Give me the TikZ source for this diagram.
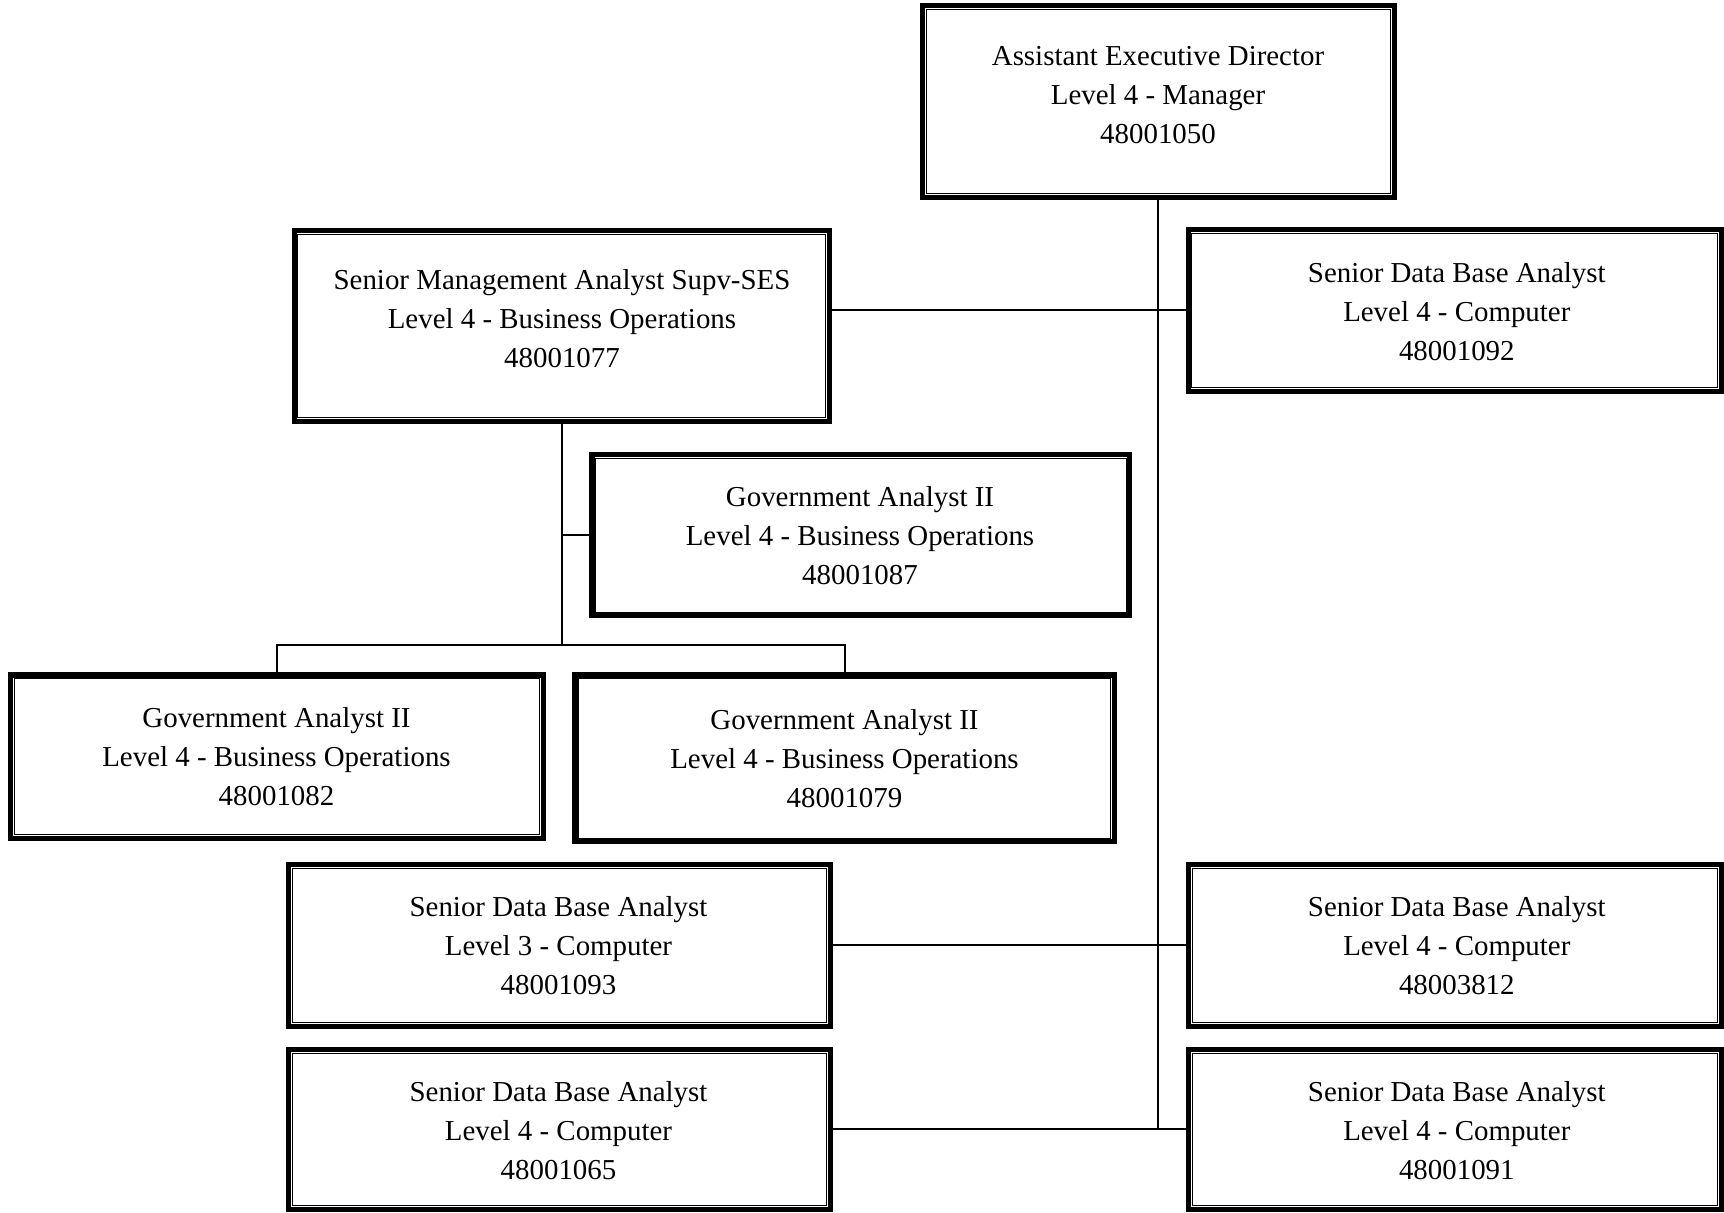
\documentclass[tikz,border=0pt]{standalone}
\usepackage{fontspec}
\setmainfont{Liberation Serif}
\begin{document}
\begin{tikzpicture}[x=0.5pt,y=-0.5pt,
  orgframe/.style={draw, line width=2.6pt, inner sep=0pt, outer sep=0pt},
  orgtext/.style={align=center, inner sep=0pt, font=\fontsize{14.45}{19.5}\selectfont},
  conn/.style={line width=1pt}]
\useasboundingbox (0,0) rectangle (1724,1212);

% box with a heavy outer rule and a thin inner rule; #2..#5 = outer left, top, right, bottom
\newcommand\orgbox[5]{%
  \node[orgframe, minimum width={(#4-#2-5.2)*0.5pt}, minimum height={(#5-#3-5.2)*0.5pt}]
    (#1) at ({(#2+#4)/2},{(#3+#5)/2}) {};
  \draw[line width=0.5pt] ([xshift=1.85pt,yshift=-1.85pt]#1.north west)
    rectangle ([xshift=-1.85pt,yshift=1.85pt]#1.south east);
}

\orgbox{aed}{920}{2.7}{1396.7}{200}
\orgbox{sma}{291.5}{228}{832}{424}
\orgbox{b92}{1185.5}{226.7}{1724}{394}
\orgbox{b87}{589.3}{451.7}{1132.3}{618.3}
\orgbox{b82}{8}{672.3}{545.7}{841}
\orgbox{b79}{572.3}{672.3}{1117}{844.3}
\orgbox{b93}{286}{861.7}{832.7}{1029}
\orgbox{b3812}{1185.7}{861.7}{1724}{1029}
\orgbox{b65}{286}{1046.7}{832.7}{1212}
\orgbox{b91}{1185.7}{1046.7}{1724}{1212}

% titles
\node[orgtext] (aed-t) at (1158,94.6) {Assistant Executive Director\\Level 4 - Manager\\48001050};
\node[orgtext] (sma-t) at (562,318.9) {Senior Management Analyst Supv-SES\\Level 4 - Business Operations\\48001077};
\node[orgtext] (b92-t) at (1456.8,311.2) {Senior Data Base Analyst\\Level 4 - Computer\\48001092};
\node[orgtext] (b87-t) at (860,535.5) {Government Analyst II\\Level 4 - Business Operations\\48001087};
\node[orgtext] (b82-t) at (276.5,756.5) {Government Analyst II\\Level 4 - Business Operations\\48001082};
\node[orgtext] (b79-t) at (844.5,758.7) {Government Analyst II\\Level 4 - Business Operations\\48001079};
\node[orgtext] (b93-t) at (558.5,945.6) {Senior Data Base Analyst\\Level 3 - Computer\\48001093};
\node[orgtext] (b3812-t) at (1456.8,945.6) {Senior Data Base Analyst\\Level 4 - Computer\\48003812};
\node[orgtext] (b65-t) at (558.5,1130.3) {Senior Data Base Analyst\\Level 4 - Computer\\48001065};
\node[orgtext] (b91-t) at (1456.8,1130.3) {Senior Data Base Analyst\\Level 4 - Computer\\48001091};

% connectors
\coordinate (bus) at (562,645);
\draw[conn] (aed.south) -- (aed.south |- b91.west);
\draw[conn] (b92.west) -- (b92.west -| sma.east);
\draw[conn] (b93.east) -- (b3812.west);
\draw[conn] (b65.east) -- (b91.west);
\draw[conn] (sma.south) -- (sma.south |- bus);
\draw[conn] (sma.south |- b87.west) -- (b87.west);
\draw[conn] (b82.north) -- (b82.north |- bus) -- (b79.north |- bus) -- (b79.north);
\end{tikzpicture}
\end{document}
